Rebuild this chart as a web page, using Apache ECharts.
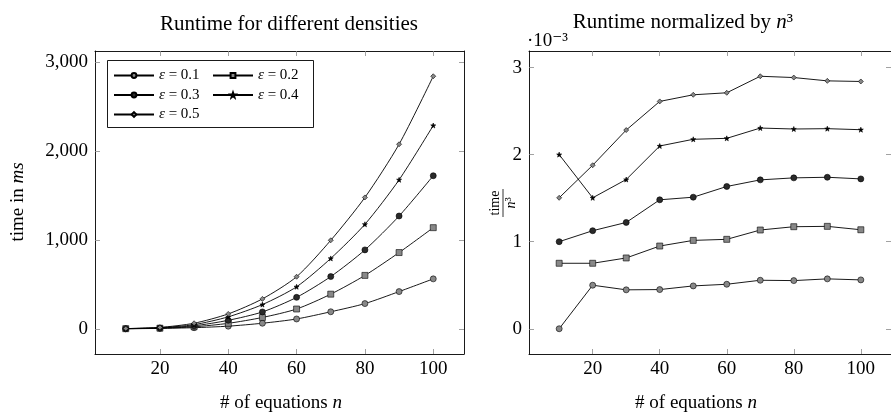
<!DOCTYPE html>
<html>
<head>
<meta charset="utf-8">
<script src="https://cdn.jsdelivr.net/npm/echarts@6/dist/echarts.min.js"></script>
<style>
html,body{margin:0;padding:0;background:#fff;}
#c{width:891px;height:415px;}
</style>
</head>
<body>
<div id="c"></div>
<script>
// ---- data ----
const nValues = [10, 20, 30, 40, 50, 60, 70, 80, 90, 100];
const seriesNames = ['ε = 0.1', 'ε = 0.2', 'ε = 0.3', 'ε = 0.4', 'ε = 0.5'];
// runtime in ms (left plot)
const runtime01 = [0, 4, 12, 29, 62, 110, 191, 283, 418, 561];
const runtime02 = [0.75, 6, 22, 61, 127, 222, 389, 600, 857, 1137];
const runtime03 = [1, 9, 33, 95, 189, 353, 587, 887, 1268, 1721];
const runtime04 = [2, 12, 46, 134, 272, 472, 791, 1175, 1675, 2286];
const runtime05 = [1.5, 15, 62, 167, 336, 585, 995, 1477, 2075, 2840];
// runtime / n^3 in units of 1e-3 (right plot)
const norm01 = [0, 0.50, 0.447, 0.450, 0.492, 0.511, 0.557, 0.553, 0.573, 0.561];
const norm02 = [0.752, 0.752, 0.813, 0.950, 1.015, 1.027, 1.134, 1.172, 1.176, 1.137];
const norm03 = [1.0, 1.126, 1.221, 1.481, 1.511, 1.634, 1.710, 1.733, 1.740, 1.721];
const norm04 = [2.0, 1.504, 1.714, 2.099, 2.176, 2.187, 2.305, 2.294, 2.298, 2.286];
const norm05 = [1.504, 1.878, 2.282, 2.611, 2.687, 2.710, 2.900, 2.885, 2.847, 2.840];
const xTicks = [20, 40, 60, 80, 100];
const leftYTicks = [0, 1000, 2000, 3000];
const rightYTicks = [0, 1, 2, 3];

const runtimeSets = [runtime01, runtime02, runtime03, runtime04, runtime05];
const normSets = [norm01, norm02, norm03, norm04, norm05];

const FONT = '"Liberation Serif", "DejaVu Serif", serif';
const STAR = 'path://M0,-10 L2.35,-3.24 L9.51,-3.09 L3.8,1.24 L5.88,8.09 L0,4 L-5.88,8.09 L-3.8,1.24 L-9.51,-3.09 L-2.35,-3.24 Z';
const markers = [
  {symbol: 'circle', size: 6, fill: '#888888'},
  {symbol: 'rect', size: 6, fill: '#888888'},
  {symbol: 'circle', size: 6, fill: '#2a2a2a'},
  {symbol: STAR, size: 5, fill: '#000000'},
  {symbol: 'diamond', size: 5, fill: '#888888'}
];

function pairs(vals) { return nValues.map((n, i) => [n, vals[i]]); }

const tickStyle = {show: true, inside: true, length: 5, lineStyle: {color: '#8a8a8a', width: 0.8}};
const lineStyleAxis = {show: true, onZero: false, lineStyle: {color: '#000', width: 0.9}};

function xAxisPair(grid, min, max) {
  return [
    {gridIndex: grid, type: 'value', min: min, max: max, position: 'bottom',
     axisLine: lineStyleAxis,
     axisTick: Object.assign({customValues: xTicks}, tickStyle),
     axisLabel: {customValues: xTicks, color: '#000', fontFamily: FONT, fontSize: 19, margin: 6},
     splitLine: {show: false}},
    {gridIndex: grid, type: 'value', min: min, max: max, position: 'top',
     axisLine: lineStyleAxis,
     axisTick: Object.assign({customValues: xTicks}, tickStyle),
     axisLabel: {show: false},
     splitLine: {show: false}}
  ];
}
function yAxisPair(grid, min, max, ticks, fmt) {
  return [
    {gridIndex: grid, type: 'value', min: min, max: max, position: 'left',
     axisLine: lineStyleAxis,
     axisTick: Object.assign({customValues: ticks}, tickStyle),
     axisLabel: {customValues: ticks, color: '#000', fontFamily: FONT, fontSize: 19, margin: 7, formatter: fmt},
     splitLine: {show: false}},
    {gridIndex: grid, type: 'value', min: min, max: max, position: 'right',
     axisLine: lineStyleAxis,
     axisTick: Object.assign({customValues: ticks}, tickStyle),
     axisLabel: {show: false},
     splitLine: {show: false}}
  ];
}

const series = [];
seriesNames.forEach((name, k) => {
  const m = markers[k];
  const common = {
    name: name, type: 'line',
    symbol: m.symbol, symbolSize: m.size,
    lineStyle: {color: '#000', width: 0.9},
    itemStyle: {color: m.fill, borderColor: '#000', borderWidth: 0.6},
    emphasis: {disabled: true},
    animation: false
  };
  series.push(Object.assign({}, common, {
    xAxisIndex: 0, yAxisIndex: 0, smooth: 0.25,
    data: pairs(runtimeSets[k])
  }));
  series.push(Object.assign({}, common, {
    xAxisIndex: 2, yAxisIndex: 2,
    data: pairs(normSets[k])
  }));
});

function legendCol(left, names) {
  return {
    left: left, top: 68,
    orient: 'vertical',
    padding: 0,
    itemGap: 4.5,
    itemWidth: 40, itemHeight: 6,
    data: names,
    formatter: function (name) { return '{e|ε}' + name.slice(1); },
    textStyle: {fontFamily: FONT, fontSize: 15, color: '#000',
      rich: {e: {fontFamily: FONT, fontSize: 15, fontStyle: 'italic', color: '#000'}}},
    selectedMode: false
  };
}

const chart = echarts.init(document.getElementById('c'), null, {renderer: 'canvas'});
chart.setOption({
  backgroundColor: '#fff',
  animation: false,
  title: [
    {text: 'Runtime for different densities', left: 284, top: 9, textAlign: 'center',
     textStyle: {fontFamily: FONT, fontSize: 21, fontWeight: 'normal', color: '#000'}},
    {text: 'Runtime normalized by {i|n}³', left: 678, top: 7, textAlign: 'center',
     textStyle: {fontFamily: FONT, fontSize: 21, fontWeight: 'normal', color: '#000',
       rich: {i: {fontFamily: FONT, fontSize: 21, fontStyle: 'italic', color: '#000'}}}}
  ],
  legend: [
    legendCol(113, [seriesNames[0], seriesNames[2], seriesNames[4]]),
    legendCol(212, [seriesNames[1], seriesNames[3]])
  ],
  grid: [
    {left: 95, top: 51, width: 369, height: 303, containLabel: false},
    {left: 529, top: 51, width: 368, height: 303, containLabel: false}
  ],
  xAxis: xAxisPair(0, 1, 109).concat(xAxisPair(1, 1, 109)),
  yAxis: yAxisPair(0, -284, 3124, leftYTicks, v => v.toLocaleString('en-US'))
    .concat(yAxisPair(1, -0.29, 3.19, rightYTicks, v => String(v))),
  series: series,
  graphic: [
    {type: 'rect', z: 1, shape: {x: 107.5, y: 60.5, width: 206, height: 67},
     style: {fill: '#fff', stroke: '#000', lineWidth: 0.9}},
    {type: 'text', x: 281, y: 403, style: {
      text: '# of equations {i|n}', fontFamily: FONT, fontSize: 19, fill: '#000',
      align: 'center', verticalAlign: 'middle',
      rich: {i: {fontFamily: FONT, fontSize: 19, fontStyle: 'italic', fill: '#000'}}}},
    {type: 'text', x: 696, y: 403, style: {
      text: '# of equations {i|n}', fontFamily: FONT, fontSize: 19, fill: '#000',
      align: 'center', verticalAlign: 'middle',
      rich: {i: {fontFamily: FONT, fontSize: 19, fontStyle: 'italic', fill: '#000'}}}},
    {type: 'text', x: 18, y: 202, rotation: Math.PI / 2, style: {
      text: 'time in {i|ms}', fontFamily: FONT, fontSize: 19, fill: '#000',
      align: 'center', verticalAlign: 'middle',
      rich: {i: {fontFamily: FONT, fontSize: 19, fontStyle: 'italic', fill: '#000'}}}},
    {type: 'group', x: 503, y: 203, rotation: Math.PI / 2, children: [
      {type: 'text', x: 0, y: -1, style: {text: 'time', fontFamily: FONT, fontSize: 14, fill: '#000', align: 'center', verticalAlign: 'bottom'}},
      {type: 'line', shape: {x1: -14, y1: 0, x2: 14, y2: 0}, style: {stroke: '#000', lineWidth: 0.8}},
      {type: 'text', x: 0, y: 1, style: {text: '{i|n}³', fontFamily: FONT, fontSize: 14, fill: '#000', align: 'center', verticalAlign: 'top',
        rich: {i: {fontFamily: FONT, fontSize: 14, fontStyle: 'italic', fill: '#000'}}}}
    ]},
    {type: 'text', x: 527, y: 41, style: {
      text: '·10⁻³', fontFamily: FONT, fontSize: 19, fill: '#000',
      align: 'left', verticalAlign: 'middle'}}
  ]
});
</script>
</body>
</html>
